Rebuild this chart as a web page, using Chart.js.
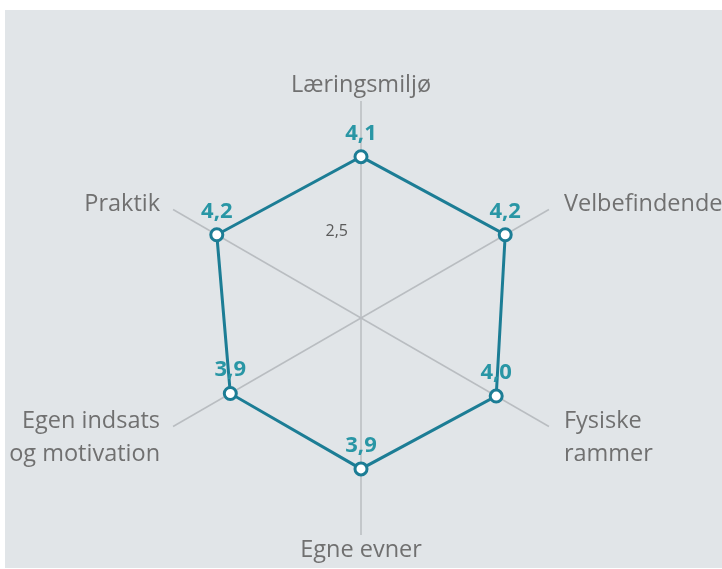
<!DOCTYPE html>
<html>
<head>
<meta charset="utf-8">
<script src="https://cdn.jsdelivr.net/npm/chart.js@4"></script>
<style>
  html, body { margin: 0; padding: 0; background: #fff; }
  #wrap { position: relative; width: 722px; height: 569px; overflow: hidden; }
  #bg { position: absolute; left: 5px; top: 10px; right: 0; bottom: 1px; background: #e1e5e8; }
  #chart { position: absolute; left: 0; top: 0; }
</style>
</head>
<body>
<div id="wrap">
  <div id="bg"></div>
  <canvas id="chart" width="722" height="569"></canvas>
</div>
<script>
const categories = [
  ['Læringsmiljø'],
  ['Velbefindende'],
  ['Fysiske', 'rammer'],
  ['Egne evner'],
  ['Egen indsats', 'og motivation'],
  ['Praktik']
];
const scores = [4.1, 4.2, 4.0, 3.9, 3.9, 4.2];
const tickValues = [2.5];

const fmt = v => v.toFixed(1).replace('.', ',');

// punkt-labels og tick-label tegnes selv, så radius og centrum ligger fast
const labelsPlugin = {
  id: 'customLabels',
  afterDraw(chart) {
    const ctx = chart.ctx;
    const scale = chart.scales.r;
    const R = scale.drawingArea;
    ctx.save();

    // tick label
    ctx.font = '16px "Open Sans"';
    ctx.fillStyle = '#5a5a5a';
    ctx.textAlign = 'right';
    ctx.textBaseline = 'alphabetic';
    tickValues.forEach(v => {
      const p = scale.getPointPositionForValue(0, v);
      ctx.fillText(fmt(v), p.x - 13, p.y - 4);
    });

    // kategori labels
    ctx.font = '23.5px "Open Sans"';
    ctx.fillStyle = '#707070';
    const lineH = 33;
    categories.forEach((lines, i) => {
      const p = scale.getPointPosition(i, R);
      let x = p.x, y = p.y;
      if (Math.abs(p.x - scale.xCenter) < 1) {
        ctx.textAlign = 'center';
        y = p.y < scale.yCenter ? p.y - 9 - (lines.length - 1) * lineH : p.y + 22;
      } else if (p.x > scale.xCenter) {
        ctx.textAlign = 'left';
        x = p.x + 15;
        y = p.y + 1;
      } else {
        ctx.textAlign = 'right';
        x = p.x - 13;
        y = p.y + 1;
      }
      lines.forEach((t, k) => ctx.fillText(t, x, y + k * lineH));
    });
    ctx.restore();
  },
  afterDatasetsDraw(chart) {
    const ctx = chart.ctx;
    const meta = chart.getDatasetMeta(0);
    ctx.save();
    ctx.font = 'bold 22px "Open Sans"';
    ctx.fillStyle = '#2996a5';
    ctx.textAlign = 'center';
    ctx.textBaseline = 'alphabetic';
    meta.data.forEach((pt, i) => {
      ctx.fillText(fmt(scores[i]), pt.x, pt.y - 17);
    });
    ctx.restore();
  }
};

new Chart(document.getElementById('chart'), {
  type: 'radar',
  data: {
    labels: categories,
    datasets: [{
      data: scores,
      borderColor: '#1c7d95',
      borderWidth: 3,
      fill: false,
      tension: 0,
      pointRadius: 6,
      pointHoverRadius: 6,
      pointBackgroundColor: '#ffffff',
      pointBorderColor: '#1c7d95',
      pointBorderWidth: 3
    }]
  },
  options: {
    responsive: false,
    animation: false,
    events: [],
    layout: { padding: { left: 144, right: 144, top: 101, bottom: 34 } },
    plugins: { legend: { display: false }, tooltip: { enabled: false } },
    scales: {
      r: {
        min: 1,
        max: 5.17,
        grid: { display: false },
        angleLines: { display: true, color: '#b9bdc1', lineWidth: 1.5 },
        ticks: { display: false },
        pointLabels: { display: false }
      }
    }
  },
  plugins: [labelsPlugin]
});
</script>
</body>
</html>
